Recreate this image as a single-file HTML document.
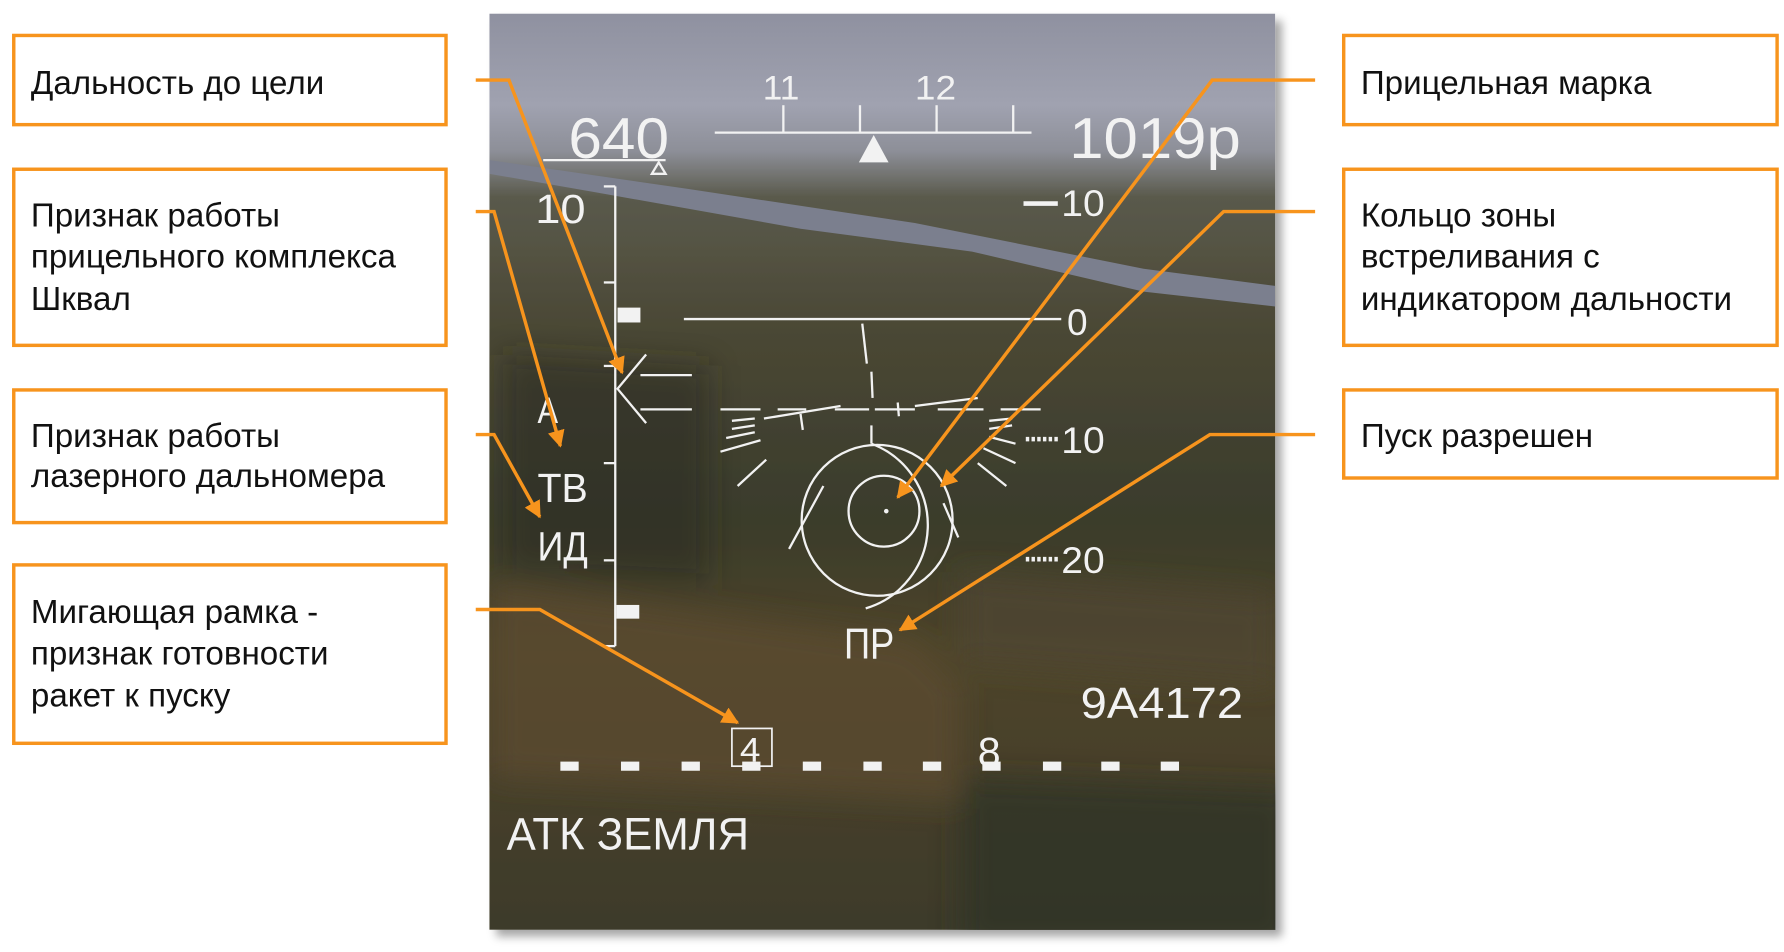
<!DOCTYPE html>
<html><head><meta charset="utf-8">
<style>
html,body{margin:0;padding:0;background:#fff;width:1784px;height:952px;overflow:hidden}
svg{display:block}
.lbl{font-family:"Liberation Sans","DejaVu Sans",sans-serif;font-size:29px;fill:#111}
.hud{font-family:"Liberation Sans","DejaVu Sans",sans-serif;fill:#f2f2f2}
</style></head>
<body>
<svg width="1784" height="952" viewBox="0 0 1560 832.5" xmlns="http://www.w3.org/2000/svg">
<defs>
<linearGradient id="sky" x1="0" y1="0" x2="0" y2="1">
<stop offset="0" stop-color="#8f91a0"/><stop offset="0.1" stop-color="#a0a2b0"/>
<stop offset="0.15" stop-color="#8d8f98"/><stop offset="0.2" stop-color="#5a5a4c"/>
<stop offset="0.35" stop-color="#4a4734"/><stop offset="0.55" stop-color="#3a3c2c"/>
<stop offset="0.7" stop-color="#4f452c"/><stop offset="1" stop-color="#3d3a2a"/>
</linearGradient>
<filter id="sh" x="-5%" y="-5%" width="115%" height="115%"><feDropShadow dx="6" dy="6" stdDeviation="4" flood-color="#000" flood-opacity="0.35"/></filter>
<filter id="bl"><feGaussianBlur stdDeviation="12"/></filter>
<clipPath id="photo"><rect x="428" y="12" width="687" height="801"/></clipPath>
<marker id="ah" viewBox="0 0 10 10" refX="9" refY="5" markerWidth="5" markerHeight="5" orient="auto"><path d="M0,0 L10,5 L0,10 z" fill="#f7941d"/></marker>
</defs>

<g>
<rect x="428" y="12" width="687" height="801" fill="url(#sky)" filter="url(#sh)"/>
<path d="M428,140 L600,165 L800,195 L1000,235 L1115,250 L1115,268 L1000,255 L850,220 L700,200 L520,168 L428,152 z" fill="#7b7f8e"/>
<g clip-path="url(#photo)"><g filter="url(#bl)">
<path d="M428,510 L800,560 L840,600 L840,700 L428,680 z" fill="#5a4b2f" opacity="0.8"/>
<path d="M840,500 L1115,520 L1115,600 L840,580 z" fill="#4e4634" opacity="0.7"/>
<path d="M840,680 L1130,690 L1130,830 L840,830 z" fill="#2e3324" opacity="0.8"/>
<path d="M440,310 L620,320 L620,510 L440,500 z" fill="#272c20" opacity="0.5"/>
</g></g>
</g>

<g stroke="#f2f2f2" fill="none" stroke-width="2">
<line x1="625" y1="116" x2="902" y2="116"/>
<line x1="685" y1="92" x2="685" y2="116"/><line x1="752" y1="92" x2="752" y2="116"/>
<line x1="819" y1="92" x2="819" y2="116"/><line x1="886" y1="92" x2="886" y2="116"/>
<line x1="475" y1="140" x2="582" y2="140"/>
<path d="M570,152 L576,142 L582,152 z"/>
<line x1="538" y1="163" x2="538" y2="565"/>
<line x1="528" y1="163" x2="538" y2="163"/><line x1="528" y1="247" x2="538" y2="247"/>
<line x1="528" y1="320" x2="538" y2="320"/><line x1="528" y1="405" x2="538" y2="405"/>
<line x1="528" y1="490" x2="538" y2="490"/><line x1="528" y1="565" x2="538" y2="565"/>
<line x1="598" y1="279" x2="928" y2="279"/>
<line x1="754" y1="283" x2="758" y2="318"/><line x1="762" y1="325" x2="763" y2="348"/>
<path d="M565,310 L540,340 L565,370 M560,328 L605,328 M560,358 L605,358"/>
<path d="M630,358 L665,358 M680,358 L705,358 M730,358 L760,358 M765,358 L800,358 M820,358 L860,358 M875,358 L910,358"/>
<path d="M668,366 L735,355 M800,355 L855,348 M700,362 L702,376 M785,352 L786,364"/>
<path d="M640,368 L660,366 M640,375 L660,372 M635,383 L660,378 M630,395 L665,385 M645,425 L670,402"/>
<path d="M865,368 L885,366 M865,375 L885,372 M865,382 L888,388 M860,392 L888,405 M855,405 L880,425"/>
<line x1="762" y1="372" x2="762" y2="388"/>
<circle cx="773" cy="447" r="31"/>
<circle cx="767" cy="455" r="66"/>
<path d="M762,388 A76,76 0 0 1 757,532"/>
<path d="M720,425 L690,480 M825,440 L838,470"/>
<path d="M897,384 L925,384 M897,489 L925,489" stroke-dasharray="3,2" stroke-width="4"/>
<line x1="895" y1="178" x2="925" y2="178" stroke-width="4"/>
<rect x="640" y="637" width="35" height="33" stroke-width="1.5"/>
</g>
<circle cx="775" cy="447" r="2" fill="#f2f2f2"/>
<path d="M764,118 L751,142 L777,142 z" fill="#f2f2f2"/>
<rect x="540" y="269" width="20" height="13" fill="#f2f2f2"/>
<rect x="539" y="529" width="20" height="12" fill="#f2f2f2"/>
<g fill="#f2f2f2">
<rect x="490" y="666" width="16" height="8"/><rect x="543" y="666" width="16" height="8"/>
<rect x="596" y="666" width="16" height="8"/><rect x="649" y="666" width="16" height="8"/>
<rect x="702" y="666" width="16" height="8"/><rect x="755" y="666" width="16" height="8"/>
<rect x="807" y="666" width="16" height="8"/><rect x="859" y="666" width="16" height="8"/>
<rect x="912" y="666" width="16" height="8"/><rect x="963" y="666" width="16" height="8"/>
<rect x="1015" y="666" width="16" height="8"/>
</g>
<g class="hud">
<text x="667" y="87" font-size="30" textLength="32" lengthAdjust="spacingAndGlyphs">11</text>
<text x="800" y="87" font-size="30" textLength="36" lengthAdjust="spacingAndGlyphs">12</text>
<text x="497" y="138" font-size="50" textLength="88" lengthAdjust="spacingAndGlyphs">640</text>
<text x="935" y="138" font-size="50" textLength="150" lengthAdjust="spacingAndGlyphs">1019р</text>
<text x="928" y="189" font-size="32" textLength="38" lengthAdjust="spacingAndGlyphs">10</text>
<text x="468" y="195" font-size="36" textLength="44" lengthAdjust="spacingAndGlyphs">10</text>
<text x="933" y="293" font-size="32" textLength="18" lengthAdjust="spacingAndGlyphs">0</text>
<text x="928" y="396" font-size="32" textLength="38" lengthAdjust="spacingAndGlyphs">10</text>
<text x="928" y="501" font-size="32" textLength="38" lengthAdjust="spacingAndGlyphs">20</text>
<text x="470" y="370" font-size="32" textLength="18" lengthAdjust="spacingAndGlyphs">А</text>
<text x="470" y="439" font-size="36" textLength="44" lengthAdjust="spacingAndGlyphs">ТВ</text>
<text x="470" y="490" font-size="36" textLength="44" lengthAdjust="spacingAndGlyphs">ИД</text>
<text x="738" y="576" font-size="38" textLength="44" lengthAdjust="spacingAndGlyphs">ПР</text>
<text x="945" y="628" font-size="38" textLength="142" lengthAdjust="spacingAndGlyphs">9А4172</text>
<text x="647" y="666" font-size="30" textLength="18" lengthAdjust="spacingAndGlyphs">4</text>
<text x="855" y="670" font-size="36" textLength="20" lengthAdjust="spacingAndGlyphs">8</text>
<text x="443" y="743" font-size="40" textLength="212" lengthAdjust="spacingAndGlyphs">АТК ЗЕМЛЯ</text>
</g>

<g stroke="#f7941d" stroke-width="3" fill="none">
<path d="M416,70 L445,70 L544,326" marker-end="url(#ah)"/>
<path d="M416,185 L432,185 L490,390" marker-end="url(#ah)"/>
<path d="M416,380 L432,380 L472,452" marker-end="url(#ah)"/>
<path d="M416,533 L472,533 L645,632" marker-end="url(#ah)"/>
<path d="M1150,70 L1060,70 L785,435" marker-end="url(#ah)"/>
<path d="M1150,185 L1070,185 L823,425" marker-end="url(#ah)"/>
<path d="M1150,380 L1058,380 L787,551" marker-end="url(#ah)"/>
</g>

<g fill="#fff" stroke="#f7941d" stroke-width="3">
<rect x="12" y="31" width="378" height="78"/>
<rect x="12" y="148" width="378" height="154"/>
<rect x="12" y="341" width="378" height="116"/>
<rect x="12" y="494" width="378" height="156"/>
<rect x="1175" y="31" width="379" height="78"/>
<rect x="1175" y="148" width="379" height="154"/>
<rect x="1175" y="341" width="379" height="77"/>
</g>
<g class="lbl">
<text x="27" y="82">Дальность до цели</text>
<text x="27" y="198"><tspan x="27">Признак работы</tspan><tspan x="27" dy="36">прицельного комплекса</tspan><tspan x="27" dy="37">Шквал</tspan></text>
<text x="27" y="391"><tspan x="27">Признак работы</tspan><tspan x="27" dy="35">лазерного дальномера</tspan></text>
<text x="27" y="545"><tspan x="27">Мигающая рамка -</tspan><tspan x="27" dy="36">признак готовности</tspan><tspan x="27" dy="37">ракет к пуску</tspan></text>
<text x="1190" y="82">Прицельная марка</text>
<text x="1190" y="198"><tspan x="1190">Кольцо зоны</tspan><tspan x="1190" dy="36">встреливания с</tspan><tspan x="1190" dy="37">индикатором дальности</tspan></text>
<text x="1190" y="391">Пуск разрешен</text>
</g>
</svg>
</body></html>
